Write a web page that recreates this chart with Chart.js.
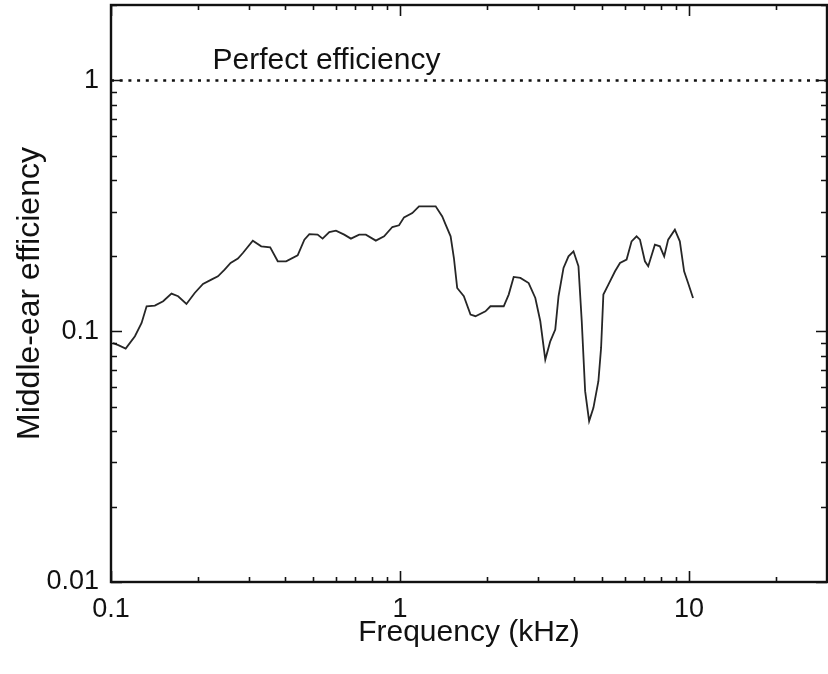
<!DOCTYPE html>
<html lang="en">
<head>
    <meta charset="UTF-8" />
    <title>Middle-ear efficiency</title>
    <script src="https://cdn.jsdelivr.net/npm/chart.js"></script>
    <style>
        html, body { margin: 0; padding: 0; background: #fff; }
        #wrap { width: 828px; height: 674px; position: relative; }
    </style>
</head>
<body>
    <div id="wrap"><canvas id="effChart"></canvas></div>

    <script>
        // measured middle-ear efficiency vs frequency
        const freqKHz = [
            0.1016, 0.1060, 0.1124, 0.1210, 0.1276, 0.1328, 0.1418, 0.1515, 0.1619, 0.1707,
            0.1824, 0.1948, 0.2081, 0.2224, 0.2344, 0.2472, 0.2593, 0.2748, 0.2859, 0.3095,
            0.3309, 0.3554, 0.3775, 0.4035, 0.4424, 0.4667, 0.4855, 0.5186, 0.5396, 0.5690,
            0.6001, 0.6409, 0.6761, 0.7222, 0.7616, 0.8245, 0.8808, 0.9406, 0.9921, 1.0323,
            1.1026, 1.1630, 1.3281, 1.3996, 1.4380, 1.4961, 1.5358, 1.5765, 1.6623, 1.7531,
            1.8239, 1.9747, 2.0548, 2.2837, 2.3764, 2.4725, 2.6084, 2.7858, 2.9376, 3.0567,
            3.1805, 3.3090, 3.4432, 3.5345, 3.6774, 3.8265, 3.9811, 4.1423, 4.2524, 4.3687,
            4.5097, 4.6667, 4.8554, 4.9605, 5.0517, 5.2566, 5.5435, 5.7677, 6.0782, 6.3241,
            6.5807, 6.7608, 7.0342, 7.2215, 7.6155, 7.9250, 8.2002, 8.4649, 8.9288, 9.2888,
            9.6116, 9.9209, 10.32
        ];
        const efficiency = [
            0.0896, 0.0880, 0.0853, 0.0955, 0.1079, 0.1258, 0.1266, 0.1317, 0.1413, 0.1379,
            0.1284, 0.1421, 0.1543, 0.1607, 0.1656, 0.1761, 0.1872, 0.1949, 0.2051, 0.2298,
            0.2181, 0.2161, 0.1901, 0.1901, 0.2008, 0.2319, 0.2441, 0.2428, 0.2341, 0.2487,
            0.2519, 0.2428, 0.2341, 0.2428, 0.2428, 0.2298, 0.2390, 0.2604, 0.2645, 0.2845,
            0.2960, 0.3148, 0.3148, 0.2871, 0.2661, 0.2390, 0.1959, 0.1488, 0.1379, 0.1166,
            0.1148, 0.1201, 0.1258, 0.1258, 0.1400, 0.1646, 0.1631, 0.1557, 0.1357, 0.1096,
            0.0771, 0.0912, 0.1016, 0.1379, 0.1788, 0.1990, 0.2083, 0.1816, 0.1096, 0.0577,
            0.0438, 0.0495, 0.0632, 0.0858, 0.1400, 0.1535, 0.1734, 0.1872, 0.1931, 0.2283,
            0.2390, 0.2319, 0.1901, 0.1816, 0.2215, 0.2181, 0.1990, 0.2319, 0.2542, 0.2283,
            0.1734, 0.1557, 0.1357
        ];

        // reference line and axis ranges
        const perfectLevel = 1;
        const perfectLabel = "Perfect efficiency";
        const xRange = [0.1, 30];
        const yRange = [0.01, 2];
        const xLabelled = [0.1, 1, 10];
        const yLabelled = [0.01, 0.1, 1];

        const FONT = "'Liberation Sans', Arial, Helvetica, sans-serif";

        const isLabelled = (v, list) => list.some(t => Math.abs(Math.log10(v) - Math.log10(t)) < 1e-6);

        // keep the plot box flush with the layout padding (no room reserved for edge labels)
        const fixBox = size => s => {
            Object.assign(s, size);
            s.paddingTop = s.paddingBottom = s.paddingLeft = s.paddingRight = 0;
        };

        // frame + inward log ticks on all four sides, plus the line caption
        const framePlugin = {
            id: 'frame',
            afterDatasetsDraw(chart) {
                const { ctx, chartArea: a, scales: { x, y } } = chart;
                ctx.save();
                ctx.strokeStyle = '#111';
                ctx.lineWidth = 1.6;

                const ticksFor = (lo, hi) => {
                    const out = [];
                    for (let e = Math.floor(Math.log10(lo)); e <= Math.ceil(Math.log10(hi)); e++) {
                        for (let m = 1; m <= 9; m++) {
                            const v = m * Math.pow(10, e);
                            if (v >= lo * 0.999 && v <= hi * 1.001) out.push({ v, major: m === 1 });
                        }
                    }
                    return out;
                };

                ctx.beginPath();
                ticksFor(xRange[0], xRange[1]).forEach(t => {
                    const px = Math.round(x.getPixelForValue(t.v)) + 0.5;
                    const len = t.major ? 11 : 5;
                    ctx.moveTo(px, a.bottom); ctx.lineTo(px, a.bottom - len);
                    ctx.moveTo(px, a.top); ctx.lineTo(px, a.top + len);
                });
                ticksFor(yRange[0], yRange[1]).forEach(t => {
                    const py = Math.round(y.getPixelForValue(t.v)) + 0.5;
                    const len = t.major ? 11 : 6;
                    ctx.moveTo(a.left, py); ctx.lineTo(a.left + len, py);
                    ctx.moveTo(a.right, py); ctx.lineTo(a.right - len, py);
                });
                ctx.stroke();

                ctx.lineWidth = 2.4;
                ctx.strokeRect(a.left, a.top, a.right - a.left, a.bottom - a.top);

                ctx.fillStyle = '#111';
                ctx.font = `30px ${FONT}`;
                ctx.textAlign = 'left';
                ctx.textBaseline = 'alphabetic';
                ctx.fillText(perfectLabel, x.getPixelForValue(0.2245), y.getPixelForValue(perfectLevel) - 11);
                ctx.restore();
            }
        };

        new Chart(document.getElementById('effChart'), {
            type: 'line',
            data: {
                datasets: [
                    {
                        label: 'efficiency',
                        data: freqKHz.map((f, i) => ({ x: f, y: efficiency[i] })),
                        borderColor: '#262626',
                        borderWidth: 1.8,
                        pointRadius: 0,
                        tension: 0
                    },
                    {
                        label: perfectLabel,
                        data: [{ x: xRange[0], y: perfectLevel }, { x: xRange[1], y: perfectLevel }],
                        borderColor: '#111',
                        borderWidth: 2.5,
                        borderDash: [3, 5.7],
                        pointRadius: 0
                    }
                ]
            },
            options: {
                responsive: true,
                maintainAspectRatio: false,
                devicePixelRatio: 1,
                animation: false,
                layout: { padding: { top: 5, right: 1, left: 0, bottom: 0 } },
                plugins: { legend: { display: false }, tooltip: { enabled: false } },
                scales: {
                    x: {
                        type: 'logarithmic',
                        min: xRange[0],
                        max: xRange[1],
                        grid: { display: false, drawTicks: false },
                        border: { display: false },
                        ticks: {
                            autoSkip: false,
                            maxRotation: 0,
                            padding: 11,
                            color: '#111',
                            font: { family: FONT, size: 27 },
                            callback: v => isLabelled(v, xLabelled) ? String(v) : ''
                        },
                        title: {
                            display: true,
                            text: 'Frequency (kHz)',
                            color: '#111',
                            font: { family: FONT, size: 30 },
                            padding: { top: 0, bottom: 23 }
                        },
                        afterFit: fixBox({ height: 92 })
                    },
                    y: {
                        type: 'logarithmic',
                        min: yRange[0],
                        max: yRange[1],
                        grid: { display: false, drawTicks: false },
                        border: { display: false },
                        ticks: {
                            autoSkip: false,
                            padding: 12,
                            color: '#111',
                            font: { family: FONT, size: 27 },
                            callback: v => isLabelled(v, yLabelled) ? String(v) : ''
                        },
                        title: {
                            display: true,
                            text: 'Middle-ear efficiency',
                            color: '#111',
                            font: { family: FONT, size: 32 },
                            padding: { top: 11, bottom: 0 }
                        },
                        afterFit: fixBox({ width: 111 })
                    }
                }
            },
            plugins: [framePlugin]
        });
    </script>
</body>
</html>
